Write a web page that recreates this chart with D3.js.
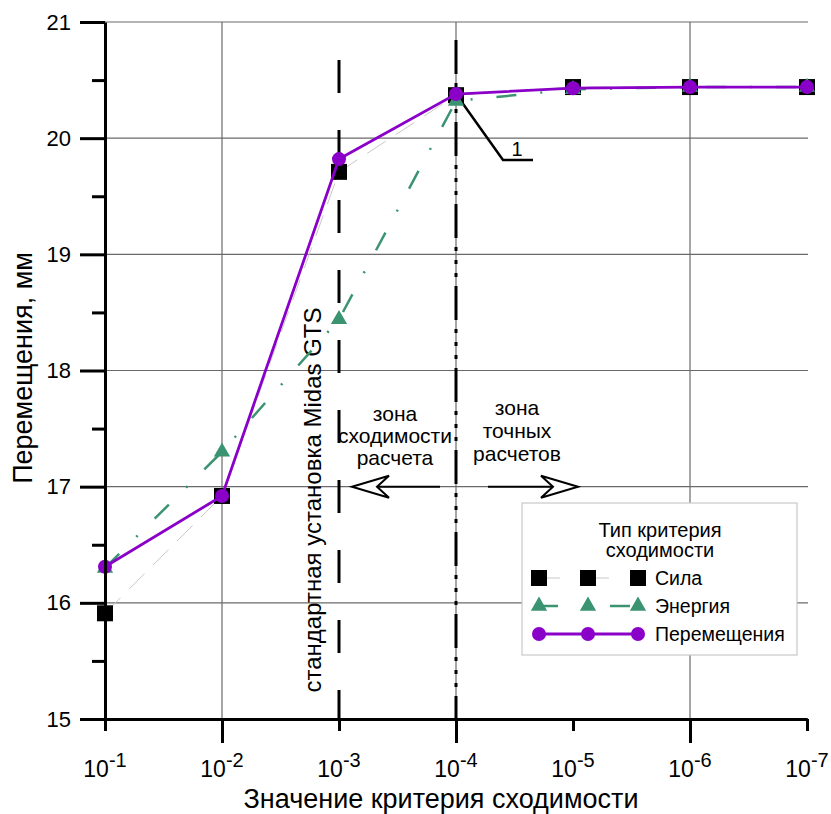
<!DOCTYPE html>
<html>
<head>
<meta charset="utf-8">
<script src="https://cdn.jsdelivr.net/npm/d3@7"></script>
<style>
  body { margin: 0; background: #fff; }
  svg { display: block; font-family: "Liberation Sans", Arial, sans-serif; }
</style>
</head>
<body>
<div id="chart"></div>
<script>
// порядок критерия: 10^-1 ... 10^-7
const exps = [1, 2, 3, 4, 5, 6, 7];
const majorX = [2, 4, 6];
const minorX = [1, 3, 5, 7];
const yMajor = [15, 16, 17, 18, 19, 20, 21];
const yMinor = [15.5, 16.5, 17.5, 18.5, 19.5, 20.5];

const silaValues = [15.91, 16.92, 19.71, 20.37, 20.44, 20.44, 20.44];
const energyValues = [16.30, 17.30, 18.44, 20.32, 20.42, 20.44, 20.44];
const dispValues = [16.31, 16.92, 19.82, 20.38, 20.43, 20.44, 20.44];

const legendTitle = ['Тип критерия', 'сходимости'];
const seriesNames = ['Сила', 'Энергия', 'Перемещения'];

const purple = '#8a00c8';
const green = '#3b9471';

const W = 831, H = 814;
const svg = d3.select('#chart').append('svg')
    .attr('width', W)
    .attr('height', H);

const x = d3.scalePoint().domain(exps).range([105, 807]);
const y = d3.scaleLinear().domain([15, 21]).range([719, 22]);

// сетка
const grid = svg.append('g').attr('stroke', '#6a6a6a').attr('stroke-width', 1.2);
grid.selectAll('line.h').data(yMajor.slice(1)).enter().append('line')
    .attr('x1', x(1)).attr('x2', x(7) + 1)
    .attr('y1', d => y(d)).attr('y2', d => y(d));
grid.selectAll('line.v').data(majorX).enter().append('line')
    .attr('x1', d => x(d)).attr('x2', d => x(d))
    .attr('y1', y(21)).attr('y2', y(15));

// вертикальные маркеры 10^-3 и 10^-4
svg.append('line')
    .attr('x1', x(3)).attr('x2', x(3))
    .attr('y1', 60).attr('y2', y(15))
    .attr('stroke', '#000').attr('stroke-width', 3)
    .attr('stroke-dasharray', '33,37');
svg.append('line')
    .attr('x1', x(4)).attr('x2', x(4))
    .attr('y1', 40).attr('y2', y(15))
    .attr('stroke', '#000').attr('stroke-width', 3)
    .attr('stroke-dasharray', '34,9,4,9,4,9,4,9');

svg.append('text')
    .attr('transform', 'translate(' + (x(3) - 18) + ',500) rotate(-90)')
    .attr('text-anchor', 'middle')
    .attr('font-size', 24)
    .text('стандартная установка Midas GTS');

// стрелки зон
function arrowHead(tipX, yy, dir) {
    const p = [[0, 0], [37, -11], [25, 0], [37, 11]].map(q => [tipX + dir * q[0], yy + q[1]]);
    return 'M' + p.join('L') + 'Z';
}
const ay = y(17);
const arrows = svg.append('g').attr('stroke', '#000').attr('stroke-width', 2);
arrows.append('line').attr('x1', 440).attr('x2', 378).attr('y1', ay).attr('y2', ay);
arrows.append('path').attr('d', arrowHead(352, ay, 1)).attr('fill', '#fff');
arrows.append('line').attr('x1', 488).attr('x2', 553).attr('y1', ay).attr('y2', ay);
arrows.append('path').attr('d', arrowHead(578, ay, -1)).attr('fill', '#fff');

const zoneL = ['зона', 'сходимости', 'расчета'];
const zoneR = ['зона', 'точных', 'расчетов'];
svg.append('g').selectAll('text').data(zoneL).enter().append('text')
    .attr('x', 395).attr('y', (d, i) => 421 + i * 22)
    .attr('text-anchor', 'middle').attr('font-size', 21)
    .text(d => d);
svg.append('g').selectAll('text').data(zoneR).enter().append('text')
    .attr('x', 517).attr('y', (d, i) => 415 + i * 23)
    .attr('text-anchor', 'middle').attr('font-size', 21)
    .text(d => d);

// выноска "1"
svg.append('path')
    .attr('d', 'M' + x(4) + ',' + y(dispValues[3]) + 'L503,160L533,160')
    .attr('fill', 'none').attr('stroke', '#000').attr('stroke-width', 2.5);
svg.append('text').attr('x', 517).attr('y', 156)
    .attr('text-anchor', 'middle').attr('font-size', 20).text('1');

// серии
const line = d3.line().x((d, i) => x(exps[i])).y(d => y(d));

svg.append('path').datum(silaValues)
    .attr('d', line).attr('fill', 'none')
    .attr('stroke', '#c8c8c8').attr('stroke-width', 1)
    .attr('stroke-dasharray', '22,12');
svg.append('g').selectAll('path').data(silaValues).enter().append('path')
    .attr('transform', (d, i) => 'translate(' + x(exps[i]) + ',' + y(d) + ')')
    .attr('d', d3.symbol(d3.symbolSquare, 256))
    .attr('fill', '#000');

svg.append('path').datum(energyValues)
    .attr('d', line).attr('fill', 'none')
    .attr('stroke', green).attr('stroke-width', 2.5)
    .attr('stroke-dasharray', '20,24,2,24');
svg.append('g').selectAll('path').data(energyValues).enter().append('path')
    .attr('transform', (d, i) => 'translate(' + x(exps[i]) + ',' + y(d) + ')')
    .attr('d', d3.symbol(d3.symbolTriangle, 115))
    .attr('fill', green);

svg.append('path').datum(dispValues)
    .attr('d', line).attr('fill', 'none')
    .attr('stroke', purple).attr('stroke-width', 2.8);
svg.append('g').selectAll('circle').data(dispValues).enter().append('circle')
    .attr('cx', (d, i) => x(exps[i])).attr('cy', d => y(d))
    .attr('r', 7).attr('fill', purple);

// оси
const yAxis = svg.append('g').attr('transform', 'translate(' + x(1) + ',0)')
    .call(d3.axisLeft(y).tickValues(yMajor).tickSize(25).tickSizeOuter(0)
        .tickPadding(9).tickFormat(d3.format('d')));
svg.append('g').attr('transform', 'translate(' + x(1) + ',0)')
    .call(d3.axisLeft(y).tickValues(yMinor).tickSize(13).tickFormat('').tickSizeOuter(0))
    .select('.domain').remove();
yAxis.selectAll('text').attr('font-size', 22).attr('fill', '#000');

svg.append('g').attr('transform', 'translate(0,' + y(15) + ')')
    .call(d3.axisBottom(x).tickValues(majorX).tickSize(24).tickSizeOuter(0).tickFormat(''));
svg.append('g').attr('transform', 'translate(0,' + y(15) + ')')
    .call(d3.axisBottom(x).tickValues(minorX).tickSize(12).tickSizeOuter(0).tickFormat(''));

svg.selectAll('.domain, .tick line').attr('stroke', '#000').attr('stroke-width', 3);
svg.selectAll('text').attr('font-family', '"Liberation Sans", Arial, sans-serif');

const xl = svg.append('g').selectAll('text').data(exps).enter().append('text')
    .attr('x', d => x(d)).attr('y', 777)
    .attr('text-anchor', 'middle').attr('font-size', 23);
xl.append('tspan').text('10');
xl.append('tspan').attr('dy', -10).attr('font-size', 20).text(d => '-' + d);

svg.append('text').attr('x', 441).attr('y', 808)
    .attr('text-anchor', 'middle').attr('font-size', 27)
    .text('Значение критерия сходимости');
svg.append('text')
    .attr('transform', 'translate(32,368) rotate(-90)')
    .attr('text-anchor', 'middle').attr('font-size', 27)
    .text('Перемещения, мм');

// легенда
const lg = svg.append('g');
lg.append('rect').attr('x', 522).attr('y', 503).attr('width', 275).attr('height', 152)
    .attr('fill', '#fff').attr('stroke', '#c8c8c8').attr('stroke-width', 1.2);
lg.selectAll('text.t').data(legendTitle).enter().append('text')
    .attr('x', 660).attr('y', (d, i) => 537 + i * 20)
    .attr('text-anchor', 'middle').attr('font-size', 20).text(d => d);
const rowY = [578, 606, 634];
const symX = [539, 588, 638];
lg.selectAll('text.s').data(seriesNames).enter().append('text')
    .attr('x', 655).attr('y', (d, i) => rowY[i] + 7)
    .attr('font-size', 19.5).text(d => d);
[[539, 560], [588, 609]].forEach(s => lg.append('line')
    .attr('x1', s[0]).attr('x2', s[1]).attr('y1', rowY[0]).attr('y2', rowY[0])
    .attr('stroke', '#c8c8c8').attr('stroke-width', 1));
symX.forEach(sx => lg.append('path')
    .attr('transform', 'translate(' + sx + ',' + rowY[0] + ')')
    .attr('d', d3.symbol(d3.symbolSquare, 256)).attr('fill', '#000'));
[[543, 558], [610, 630]].forEach(s => lg.append('line')
    .attr('x1', s[0]).attr('x2', s[1]).attr('y1', rowY[1]).attr('y2', rowY[1])
    .attr('stroke', green).attr('stroke-width', 2.5));
symX.forEach(sx => lg.append('path')
    .attr('transform', 'translate(' + sx + ',' + rowY[1] + ')')
    .attr('d', d3.symbol(d3.symbolTriangle, 115)).attr('fill', green));
lg.append('line').attr('x1', symX[0]).attr('x2', symX[2]).attr('y1', rowY[2]).attr('y2', rowY[2])
    .attr('stroke', purple).attr('stroke-width', 2.8);
symX.forEach(sx => lg.append('circle')
    .attr('cx', sx).attr('cy', rowY[2]).attr('r', 7).attr('fill', purple));
</script>
</body>
</html>
